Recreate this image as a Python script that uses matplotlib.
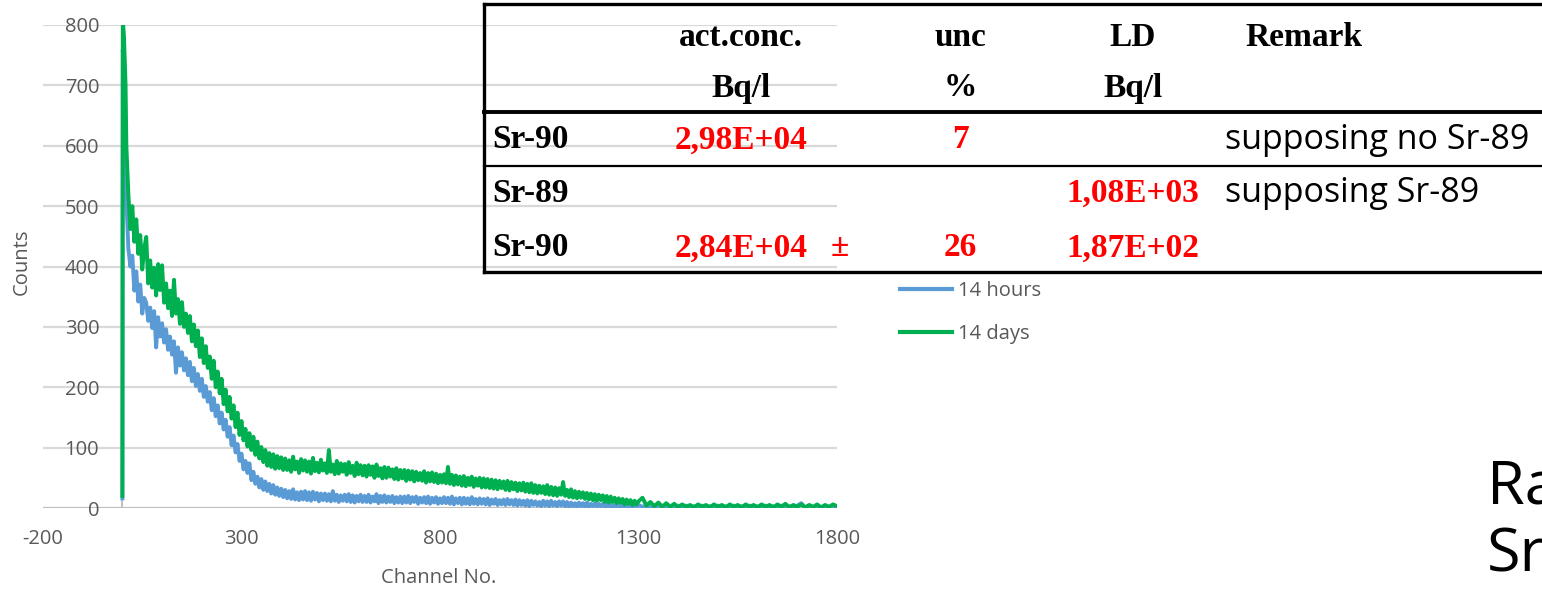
import matplotlib
matplotlib.use("Agg")
import matplotlib.pyplot as plt

# ---- spectrum data ----
# first channels one by one, then every 5 channels up to 1295, then every 10
channels = ([0, 1, 2, 4, 6, 8] + list(range(10, 1300, 5))
            + list(range(1300, 1801, 10)))

counts_14h = [
    16, 760, 740, 680, 600, 540,
    # 10 .. 1295, step 5
    510, 430, 400, 418, 360, 392, 342, 370, 322, 348,
    340, 310, 332, 298, 326, 266, 316, 284, 306, 274,
    296, 262, 284, 254, 276, 224, 266, 236, 258, 228,
    248, 220, 242, 210, 232, 202, 222, 194, 214, 184,
    202, 176, 192, 162, 182, 152, 170, 140, 158, 130,
    146, 118, 134, 104, 120, 92, 106, 78, 90, 64,
    78, 58, 74, 46, 60, 40, 52, 34, 48, 30,
    44, 28, 40, 24, 38, 22, 34, 20, 32, 18,
    30, 16, 28, 15, 31, 14, 26, 13, 27, 14,
    28, 13, 26, 12, 27, 14, 25, 11, 24, 13,
    24, 12, 23, 11, 28, 12, 22, 10, 21, 12,
    22, 11, 23, 10, 21, 9, 20, 11, 22, 10,
    20, 10, 22, 9, 19, 11, 23, 8, 20, 10,
    21, 9, 19, 10, 20, 8, 18, 9, 19, 8,
    19, 9, 20, 8, 18, 10, 19, 7, 17, 9,
    18, 8, 19, 7, 17, 9, 18, 7, 16, 8,
    18, 8, 17, 7, 19, 6, 16, 8, 17, 6,
    17, 7, 16, 6, 18, 7, 15, 6, 16, 7,
    15, 6, 16, 5, 14, 7, 15, 5, 13, 6,
    14, 5, 15, 6, 13, 5, 14, 4, 13, 5,
    12, 4, 13, 3, 12, 5, 11, 4, 10, 3,
    12, 4, 11, 3, 12, 4, 10, 3, 11, 4,
    11, 3, 10, 2, 9, 3, 8, 2, 9, 3,
    8, 2, 9, 2, 7, 3, 8, 2, 7, 3,
    7, 2, 6, 1, 6, 2, 5, 1, 6, 2,
    5, 1, 5, 2, 6, 1, 5, 2,
    # 1300 .. 1800, step 10
    5, 2, 4, 1, 4, 1, 4, 1, 3, 1, 4,
    1, 4, 1, 3, 1, 4, 1, 3, 1, 4,
    1, 3, 1, 4, 1, 3, 1, 4, 1, 3,
    1, 4, 1, 3, 1, 4, 1, 3, 1, 4,
    8, 1, 4, 1, 3, 1, 4, 1, 3, 2,
]

counts_14d = [
    20, 800, 800, 780, 740, 700,
    # 10 .. 1295, step 5
    600, 520, 462, 500, 441, 478, 421, 452, 395, 430,
    449, 372, 410, 365, 398, 352, 404, 361, 402, 340,
    372, 331, 360, 318, 378, 322, 346, 305, 341, 300,
    322, 290, 318, 276, 304, 268, 294, 250, 281, 240,
    268, 232, 251, 214, 244, 200, 226, 190, 214, 172,
    196, 160, 184, 148, 170, 134, 158, 121, 144, 112,
    131, 102, 124, 96, 118, 88, 110, 82, 101, 76,
    96, 70, 91, 68, 89, 65, 86, 66, 84, 63,
    82, 63, 79, 60, 85, 64, 77, 58, 81, 62,
    79, 60, 77, 57, 83, 61, 75, 59, 80, 62,
    74, 58, 96, 60, 72, 56, 78, 57, 74, 60,
    73, 55, 76, 58, 70, 53, 75, 56, 71, 54,
    70, 52, 71, 55, 69, 50, 72, 53, 66, 49,
    68, 50, 67, 52, 64, 48, 66, 47, 63, 49,
    63, 45, 62, 47, 61, 44, 60, 46, 58, 45,
    61, 42, 58, 44, 59, 43, 57, 41, 55, 42,
    56, 41, 68, 40, 55, 38, 54, 39, 52, 37,
    53, 36, 50, 38, 52, 35, 49, 37, 50, 34,
    49, 34, 48, 33, 47, 32, 46, 31, 45, 33,
    44, 30, 45, 29, 43, 31, 42, 28, 41, 29,
    42, 27, 40, 26, 41, 25, 38, 24, 37, 25,
    36, 23, 38, 22, 35, 21, 34, 20, 33, 22,
    43, 20, 30, 18, 31, 17, 28, 16, 27, 17,
    26, 15, 25, 14, 24, 13, 23, 12, 22, 13,
    21, 10, 20, 9, 19, 10, 17, 8, 16, 9,
    15, 6, 14, 7, 13, 5, 12, 6,
    # 1300 .. 1800, step 10
    11, 17, 4, 10, 3, 9, 2, 8, 2, 7, 1,
    6, 2, 5, 1, 6, 2, 5, 1, 6, 2,
    5, 1, 6, 2, 5, 1, 6, 2, 5, 1,
    6, 2, 5, 1, 6, 2, 7, 1, 5, 2,
    6, 1, 5, 2, 6, 1, 5, 2, 6, 3,
]

series_labels = ["14 hours", "14 days"]
series_colors = ["#5b9bd5", "#00b050"]

x_ticks = [-200, 300, 800, 1300, 1800]
y_ticks = [0, 100, 200, 300, 400, 500, 600, 700, 800]

# ---- results table ----
header_top = ["act.conc.", "unc", "LD", "Remark"]
header_units = ["Bq/l", "%", "Bq/l", ""]
row_names = ["Sr-90", "Sr-89", "Sr-90"]
act_conc = ["2,98E+04", "", "2,84E+04"]
act_pm = ["", "", "±"]
unc = ["7", "", "26"]
ld = ["", "1,08E+03", "1,87E+02"]
remarks = ["supposing no Sr-89", "supposing Sr-89", ""]

assert len(counts_14h) == len(channels) == len(counts_14d)

GRAY = "#595959"
SANS = ["Open Sans", "DejaVu Sans"]
SERIF = ["Liberation Serif", "DejaVu Serif"]

W, H = 1542, 591
fig = plt.figure(figsize=(W / 100, H / 100), dpi=100)
plt.rcParams["font.family"] = SANS

# plot area: x -200..1800 -> px 43..837, y 0..800 -> px 508..25
ax = fig.add_axes([43 / W, 1 - 508 / H, (837 - 43) / W, (508 - 25) / H])
ax.set_xlim(-200, 1800)
ax.set_ylim(0, 800)
for s in ax.spines.values():
    s.set_visible(False)

for yv in y_ticks[1:]:
    ax.axhline(yv, color="#d9d9d9", lw=1.6, zorder=0)
ax.axhline(0, color="#bfbfbf", lw=1.6, zorder=0)
ax.axvline(0, color="#bfbfbf", lw=1.4, zorder=0)

ax.plot(channels, counts_14h, color=series_colors[0], lw=2.8,
        solid_joinstyle="round", label=series_labels[0], zorder=2)
ax.plot(channels, counts_14d, color=series_colors[1], lw=2.8,
        solid_joinstyle="round", label=series_labels[1], zorder=3)

ax.set_xticks(x_ticks)
ax.set_xticklabels([str(v) for v in x_ticks])
ax.set_yticks(y_ticks)
ax.set_yticklabels([str(v) for v in y_ticks])
ax.tick_params(axis="x", length=0, pad=15, labelsize=14.5, labelcolor=GRAY)
# y labels sit inside the plot, over the gridlines (like the original)
ax.tick_params(axis="y", length=0, pad=-40.5, labelsize=14.5, labelcolor=GRAY)

fig.text(439 / W, 1 - 578 / H, "Channel No.", ha="center", va="center",
         fontsize=14.5, color=GRAY)
fig.text(22 / W, 1 - 262 / H, "Counts", ha="center", va="center",
         rotation=90, fontsize=14.5, color=GRAY)

leg = fig.legend(loc="upper left", bbox_to_anchor=(900 / W, 1 - 281 / H),
                 frameon=False, borderpad=0, borderaxespad=0, handlelength=2.6,
                 handletextpad=0.3, labelspacing=1.15, fontsize=14.5,
                 labelcolor=GRAY)
for line in leg.get_lines():
    line.set_linewidth(3.0)

# ---- table overlay in pixel coordinates ----
tab = fig.add_axes([0, 0, 1, 1], zorder=5)
tab.set_xlim(0, W)
tab.set_ylim(H, 0)
tab.axis("off")
tab.patch.set_alpha(0)

left, right = 484, W + 5
tab.plot([left, right], [4, 4], color="black", lw=2.4, solid_capstyle="projecting")
tab.plot([left, left], [4, 272], color="black", lw=2.4, solid_capstyle="projecting")
tab.plot([left, right], [112, 112], color="black", lw=2.8)
tab.plot([left, right], [166, 166], color="black", lw=1.6)
tab.plot([left, right], [272, 272], color="black", lw=2.4, solid_capstyle="projecting")

col_x = [741, 960, 1133]
head_kw = dict(fontsize=24, fontweight="bold", family=SERIF, va="center")
for x, t in zip(col_x, header_top[:3]):
    tab.text(x, 37, t, ha="center", **head_kw)
tab.text(1245, 37, header_top[3], ha="left", **head_kw)
for x, t in zip(col_x, header_units[:3]):
    tab.text(x, 88, t, ha="center", **head_kw)

row_y = [140, 193, 248]
red_kw = dict(fontsize=24, fontweight="bold", family=SERIF, va="center",
              color="red", ha="center")
for i, y in enumerate(row_y):
    tab.text(492, y, row_names[i], ha="left", **head_kw)
    tab.text(col_x[0], y, act_conc[i], **red_kw)
    tab.text(840, y, act_pm[i], **red_kw)
    tab.text(col_x[1], y, unc[i], **red_kw)
    tab.text(col_x[2], y, ld[i], **red_kw)
    tab.text(1225, y, remarks[i], ha="left", va="center", fontsize=24.5,
             color="black")

# slide title that runs off the right edge in the original
tab.text(1487, 487, "Ra", ha="left", va="center", fontsize=44, color="black")
tab.text(1487, 555, "Sr", ha="left", va="center", fontsize=44, color="black")

fig.savefig("out.png", dpi=100)
